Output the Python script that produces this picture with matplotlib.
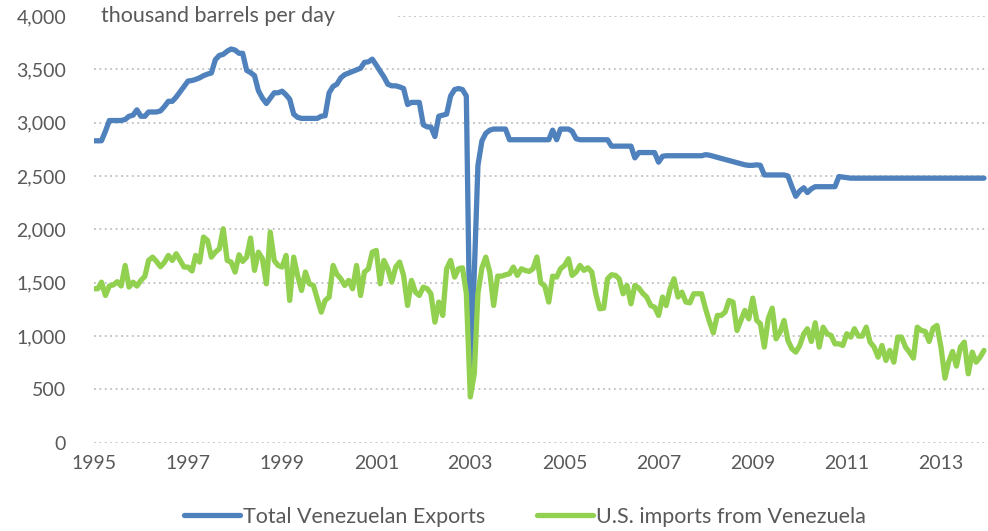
import matplotlib
matplotlib.use("Agg")
import matplotlib.pyplot as plt
from matplotlib.ticker import FuncFormatter
import pandas as pd

BLUE = "#4f81bd"
GREEN = "#92d050"
GREY_TXT = "#595959"
GRID = "#bfbfbf"

plt.rcParams.update({"font.family": ["Lato", "DejaVu Sans"], "text.color": GREY_TXT})

# monthly, Jan 1995 .. Dec 2013, thousand barrels per day
months = pd.date_range("1995-01-01", periods=228, freq="MS")

exports = [
    2830, 2830, 2830, 2920, 3020, 3020, 3020, 3020, 3030, 3060, 3070, 3120,  # 1995
    3060, 3060, 3100, 3100, 3100, 3110, 3150, 3200, 3200, 3240, 3290, 3340,  # 1996
    3390, 3395, 3405, 3420, 3440, 3455, 3465, 3590, 3630, 3640, 3670, 3690,  # 1997
    3680, 3650, 3650, 3490, 3470, 3440, 3300, 3230, 3180, 3230, 3280, 3280,  # 1998
    3295, 3260, 3220, 3080, 3050, 3040, 3040, 3040, 3040, 3040, 3060, 3065,  # 1999
    3280, 3340, 3360, 3420, 3450, 3465, 3480, 3495, 3510, 3565, 3570, 3595,  # 2000
    3540, 3480, 3430, 3360, 3345, 3345, 3335, 3320, 3170, 3190, 3190, 3190,  # 2001
    2980, 2960, 2960, 2870, 3060, 3070, 3080, 3250, 3310, 3320, 3310, 3250,  # 2002
    690, 1600, 2600, 2830, 2900, 2930, 2940, 2940, 2940, 2940, 2840, 2840,   # 2003
    2840, 2840, 2840, 2840, 2840, 2840, 2840, 2840, 2840, 2930, 2840, 2940,  # 2004
    2940, 2940, 2920, 2850, 2840, 2840, 2840, 2840, 2840, 2840, 2840, 2840,  # 2005
    2780, 2780, 2780, 2780, 2780, 2780, 2670, 2720, 2720, 2720, 2720, 2720,  # 2006
    2630, 2685, 2690, 2690, 2690, 2690, 2690, 2690, 2690, 2690, 2690, 2690,  # 2007
    2700, 2695, 2685, 2675, 2665, 2655, 2645, 2635, 2625, 2615, 2605, 2600,  # 2008
    2600, 2605, 2600, 2510, 2510, 2510, 2510, 2510, 2510, 2500, 2400, 2310,  # 2009
    2360, 2390, 2345, 2380, 2400, 2400, 2400, 2400, 2400, 2400, 2495, 2490,  # 2010
    2485, 2480, 2480, 2480, 2480, 2480, 2480, 2480, 2480, 2480, 2480, 2480,  # 2011
    2480, 2480, 2480, 2480, 2480, 2480, 2480, 2480, 2480, 2480, 2480, 2480,  # 2012
    2480, 2480, 2480, 2480, 2480, 2480, 2480, 2480, 2480, 2480, 2480, 2480,  # 2013
]

us_imports = [
    1444, 1444, 1506, 1381, 1470, 1480, 1510, 1470, 1662, 1460, 1506, 1469,  # 1995
    1522, 1560, 1710, 1740, 1700, 1650, 1690, 1756, 1709, 1772, 1709, 1647,  # 1996
    1647, 1610, 1756, 1694, 1928, 1897, 1740, 1787, 1819, 2006, 1709, 1694,  # 1997
    1600, 1762, 1700, 1740, 1919, 1616, 1787, 1725, 1490, 1975, 1709, 1662,  # 1998
    1647, 1756, 1334, 1740, 1569, 1428, 1600, 1490, 1475, 1350, 1225, 1334,  # 1999
    1366, 1662, 1580, 1537, 1475, 1522, 1444, 1662, 1381, 1600, 1631, 1787,  # 2000
    1803, 1490, 1709, 1631, 1506, 1647, 1694, 1569, 1287, 1522, 1412, 1381,  # 2001
    1459, 1444, 1397, 1131, 1319, 1194, 1631, 1709, 1553, 1631, 1640, 1400,  # 2002
    430, 650, 1400, 1640, 1740, 1600, 1287, 1562, 1562, 1575, 1584, 1647,    # 2003
    1569, 1631, 1616, 1606, 1631, 1741, 1500, 1469, 1319, 1562, 1553, 1631,  # 2004
    1662, 1725, 1569, 1600, 1662, 1616, 1640, 1600, 1397, 1256, 1262, 1537,  # 2005
    1575, 1569, 1537, 1397, 1475, 1303, 1475, 1450, 1400, 1366, 1287, 1272,  # 2006
    1194, 1366, 1287, 1444, 1537, 1366, 1412, 1319, 1312, 1397, 1397, 1397,  # 2007
    1256, 1131, 1031, 1194, 1194, 1225, 1334, 1319, 1053, 1147, 1241, 1162,  # 2008
    1356, 1147, 1116, 897, 1162, 1262, 975, 1037, 1147, 959, 881, 850,       # 2009
    912, 1022, 1069, 950, 1125, 897, 1084, 1022, 1006, 928, 928, 912,        # 2010
    1022, 991, 1069, 1000, 1000, 1084, 944, 897, 803, 912, 772, 866,         # 2011
    756, 991, 991, 897, 850, 794, 1084, 1053, 1044, 950, 1075, 1100,         # 2012
    897, 606, 756, 856, 719, 897, 944, 647, 850, 756, 803, 866,              # 2013
]

series = [("Total Venezuelan Exports", exports, BLUE),
          ("U.S. imports from Venezuela", us_imports, GREEN)]

y_ticks = [0, 500, 1000, 1500, 2000, 2500, 3000, 3500, 4000]
x_years = list(range(1995, 2014, 2))

fig = plt.figure(figsize=(9.88, 5.31), dpi=100)
ax = fig.add_axes([0.095, 0.166, 0.905, 0.804])

x0 = pd.Timestamp("1995-01-01")
x1 = pd.Timestamp("2014-01-01")
for v in y_ticks[:-1]:
    ax.plot([x0, x1], [v, v], color=GRID, lw=1.3, ls=(0, (1, 2)), zorder=1)
# top gridline only starts right of the unit label
ax.plot([pd.Timestamp("2001-06-15"), x1], [4000, 4000], color=GRID, lw=1.3,
        ls=(0, (1, 2)), zorder=1)

for name, vals, col in series:
    ax.plot(months, vals, color=col, lw=3.8, label=name, zorder=3,
            solid_joinstyle="round", solid_capstyle="round")

ax.set_xlim(x0, x1)
ax.set_ylim(0, 4000)
ax.set_yticks(y_ticks)
ax.yaxis.set_major_formatter(FuncFormatter(lambda v, p: f"{int(v):,}"))
ax.set_xticks([pd.Timestamp(f"{y}-01-01") for y in x_years])
ax.set_xticklabels([str(y) for y in x_years])
ax.tick_params(axis="both", length=0, labelsize=14, colors=GREY_TXT)
ax.tick_params(axis="y", pad=20)
ax.tick_params(axis="x", pad=9)
for s in ax.spines.values():
    s.set_visible(False)

ax.text(pd.Timestamp("1995-03-01"), 4000, "thousand barrels per day", fontsize=15.5,
        color=GREY_TXT, va="center", ha="left")

fig.legend(loc="center", bbox_to_anchor=(0.531, 0.027), ncol=2, frameon=False,
           fontsize=15.5, handlelength=2.6, handletextpad=0.15, columnspacing=2.4,
           labelcolor=GREY_TXT)

fig.savefig("out.png", dpi=100, facecolor="white")
